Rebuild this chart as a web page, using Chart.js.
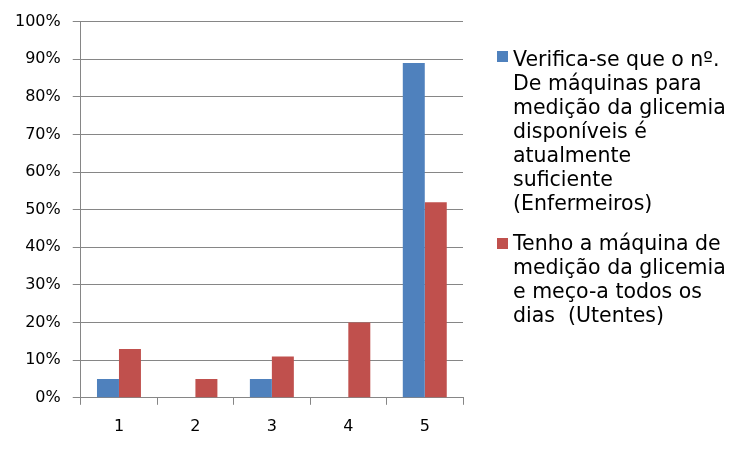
<!DOCTYPE html>
<html>
<head>
<meta charset="utf-8">
<script src="https://cdn.jsdelivr.net/npm/chart.js@4"></script>
<style>
  body { margin: 0; background: #fff; }
  #wrap { position: relative; width: 750px; height: 450px; }
  .leg { position: absolute; left: 497px; font-family: "DejaVu Sans", Verdana, sans-serif; font-size: 20.5px; line-height: 24px; color: #000; }
  .leg .box { position: absolute; left: 0; width: 11px; height: 11px; }
  .leg .txt { position: absolute; left: 16px; white-space: nowrap; }
</style>
</head>
<body>
<div id="wrap">
  <canvas id="myChart" width="750" height="450"></canvas>
  <div class="leg" id="leg1" style="top:47px"><div class="box" style="top:4px;background:#4F81BD"></div><div class="txt" id="t1"></div></div>
  <div class="leg" id="leg2" style="top:231px"><div class="box" style="top:7px;background:#C0504D"></div><div class="txt" id="t2"></div></div>
</div>
<script>
// dados
const categories = ['1', '2', '3', '4', '5'];
const enfermeiros = [5, 0, 5, 0, 89];
const utentes = [13, 5, 11, 20, 52];
const legendEnfermeiros = ['Verifica-se que o nº.', 'De máquinas para', 'medição da glicemia', 'disponíveis é', 'atualmente', 'suficiente', '(Enfermeiros)'];
const legendUtentes = ['Tenho a máquina de', 'medição da glicemia', 'e meço-a todos os', 'dias\u00a0 (Utentes)'];

document.getElementById('t1').innerHTML = legendEnfermeiros.join('<br>');
document.getElementById('t2').innerHTML = legendUtentes.join('<br>');

const ctx = document.getElementById('myChart');
const gray = '#868686';

new Chart(ctx, {
  type: 'bar',
  data: {
    labels: categories,
    datasets: [
      {
        label: legendEnfermeiros.join(' '),
        data: enfermeiros,
        backgroundColor: '#4F81BD'
      },
      {
        label: legendUtentes.join(' '),
        data: utentes,
        backgroundColor: '#C0504D'
      }
    ]
  },
  options: {
    responsive: false,
    animation: false,
    layout: { padding: { left: 3, right: 287, top: 19, bottom: 2 } },
    datasets: { bar: { categoryPercentage: 0.575, barPercentage: 1 } },
    plugins: { legend: { display: false }, tooltip: { enabled: false } },
    scales: {
      x: {
        offset: true,
        grid: { offset: true, drawOnChartArea: false, drawTicks: true, tickLength: 7, color: gray },
        border: { color: gray },
        ticks: { color: '#000', padding: 12, font: { family: 'DejaVu Sans', size: 16 } }
      },
      y: {
        min: 0,
        max: 100,
        grid: { color: gray, tickLength: 8 },
        border: { color: gray },
        ticks: {
          stepSize: 10,
          color: '#000',
          padding: 12,
          font: { family: 'DejaVu Sans', size: 16 },
          callback: v => v + '%'
        }
      }
    }
  }
});
</script>
</body>
</html>
